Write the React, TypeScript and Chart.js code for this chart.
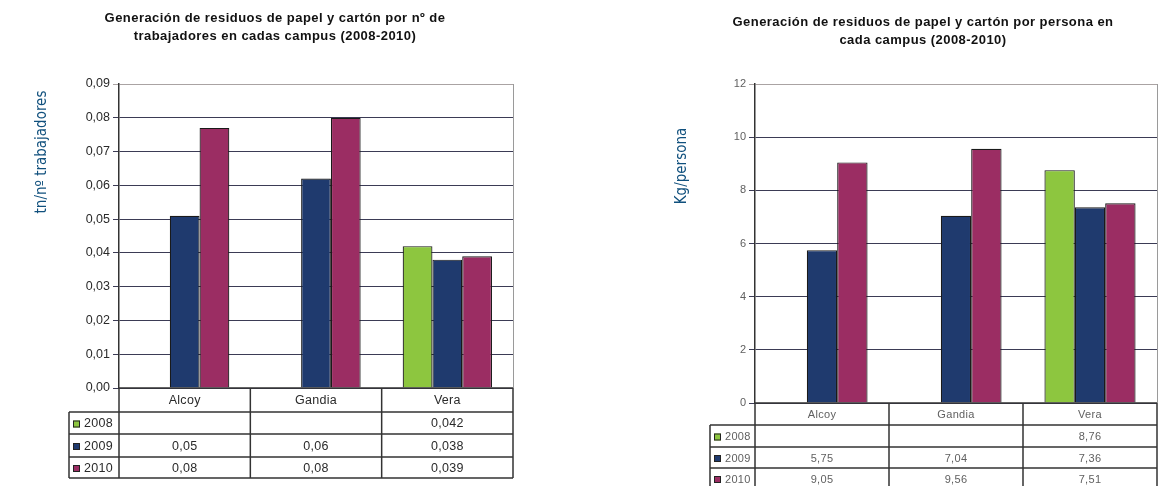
import React, { useEffect, useRef } from "react";
import { Chart, registerables } from "chart.js";

Chart.register(...registerables);

// Campuses and years
const campuses = ["Alcoy", "Gandia", "Vera"];
const years = ["2008", "2009", "2010"];
const yearColors = ["#8dc63f", "#1f3a6e", "#9b2d63"];

// Paper and cardboard waste per worker (tn / nº trabajadores)
const perWorker2008 = [null, null, 0.042];
const perWorker2009 = [0.051, 0.062, 0.038];
const perWorker2010 = [0.077, 0.080, 0.039];
const perWorkerDecimals = [2, 2, 3];

// Paper and cardboard waste per person (kg / persona)
const perPerson2008 = [null, null, 8.76];
const perPerson2009 = [5.75, 7.04, 7.36];
const perPerson2010 = [9.05, 9.56, 7.51];
const perPersonDecimals = [2, 2, 2];

const leftTitle = [
  "Generación de residuos de papel y cartón por nº de",
  "trabajadores en cadas campus (2008-2010)",
];
const rightTitle = [
  "Generación de residuos de papel y cartón por persona en",
  "cada campus (2008-2010)",
];

type PanelCfg = {
  series: (number | null)[][];
  decimals: number[];
  yMax: number;
  yStep: number;
  tickFormat: (v: number) => string;
  title: string[];
  titleX: number;
  titleYs: number[];
  yTitle: string;
  yTitleX: number;
  yTitleY: number;
  padding: { left: number; right: number; top: number; bottom: number };
  yWidth: number;
  rowHeights: number[];
  legendWidth: number;
  textColor: string;
  tickFont: number;
  tableFont: number;
  tableSpacing: string;
};

const fmt = (v: number, d: number) => v.toFixed(d).replace(".", ",");
const FONT = '"Liberation Sans", Arial, sans-serif';

function tablePlugin(cfg: PanelCfg) {
  return {
    id: "panelExtras",
    beforeDatasetsDraw(chart: any) {
      const { ctx, chartArea } = chart;
      ctx.save();
      ctx.strokeStyle = "#9a9a9a";
      ctx.lineWidth = 1;
      ctx.beginPath();
      ctx.moveTo(chartArea.right + 0.5, chartArea.top);
      ctx.lineTo(chartArea.right + 0.5, chartArea.bottom);
      ctx.stroke();
      ctx.restore();
    },
    afterDraw(chart: any) {
      const { ctx, chartArea } = chart;
      const xs = chart.scales.x;
      const left = chartArea.left;
      const right = chartArea.right;
      const colW = (right - left) / campuses.length;
      const legendLeft = left - cfg.legendWidth;
      const rows: number[] = [chartArea.bottom];
      cfg.rowHeights.forEach((h, i) => rows.push(rows[i] + h));
      const bottom = rows[rows.length - 1];

      ctx.save();
      // table grid
      ctx.strokeStyle = "#333";
      ctx.lineWidth = 1.5;
      ctx.beginPath();
      ctx.moveTo(left, rows[0]);
      ctx.lineTo(right, rows[0]);
      for (let i = 1; i < rows.length; i++) {
        ctx.moveTo(legendLeft, rows[i]);
        ctx.lineTo(right, rows[i]);
      }
      ctx.moveTo(legendLeft, rows[1]);
      ctx.lineTo(legendLeft, bottom);
      for (let c = 0; c <= campuses.length; c++) {
        const x = left + c * colW;
        ctx.moveTo(x, rows[0]);
        ctx.lineTo(x, bottom);
      }
      ctx.stroke();

      // header: campus names
      ctx.fillStyle = cfg.textColor;
      ctx.font = `${cfg.tableFont}px ${FONT}`;
      (ctx as any).letterSpacing = cfg.tableSpacing;
      ctx.textAlign = "center";
      ctx.textBaseline = "middle";
      campuses.forEach((name, c) => {
        const cx = xs.getPixelForValue(c);
        ctx.fillText(name, cx, (rows[0] + rows[1]) / 2 + 1);
      });

      // rows: legend key + values
      years.forEach((yr, r) => {
        const cy = (rows[r + 1] + rows[r + 2]) / 2 + 1;
        const sw = 7;
        const sx = legendLeft + 4;
        ctx.fillStyle = yearColors[r];
        ctx.fillRect(sx, cy - sw / 2, sw, sw);
        ctx.strokeStyle = "#222";
        ctx.lineWidth = 1;
        ctx.strokeRect(sx + 0.5, cy - sw / 2 + 0.5, sw - 1, sw - 1);
        ctx.fillStyle = cfg.textColor;
        ctx.textAlign = "left";
        ctx.fillText(yr, sx + sw + 4, cy);
        ctx.textAlign = "center";
        cfg.series[r].forEach((v, c) => {
          if (v === null) return;
          ctx.fillText(fmt(v, cfg.decimals[c]), xs.getPixelForValue(c), cy);
        });
      });

      // chart title
      ctx.fillStyle = "#111";
      ctx.font = `bold 13px ${FONT}`;
      (ctx as any).letterSpacing = "0.45px";
      ctx.textAlign = "center";
      cfg.title.forEach((line, i) => ctx.fillText(line, cfg.titleX, cfg.titleYs[i]));

      // vertical axis title
      (ctx as any).letterSpacing = "0px";
      ctx.translate(cfg.yTitleX, cfg.yTitleY);
      ctx.rotate(-Math.PI / 2);
      ctx.fillStyle = "#10507d";
      ctx.font = '15px "Liberation Sans Narrow", "DejaVu Sans Condensed", sans-serif';
      ctx.fillText(cfg.yTitle, 0, 0);
      ctx.restore();
    },
  };
}

function Panel({ cfg, left, width }: { cfg: PanelCfg; left: number; width: number }) {
  const ref = useRef<HTMLCanvasElement>(null);
  useEffect(() => {
    if (!ref.current) return;
    const chart = new Chart(ref.current, {
      type: "bar",
      data: {
        labels: campuses,
        datasets: years.map((yr, i) => ({
          label: yr,
          data: cfg.series[i],
          backgroundColor: yearColors[i],
          borderColor: "#1a1a1a",
          borderWidth: 1.2,
          categoryPercentage: 0.68,
          barPercentage: 1,
        })),
      },
      options: {
        responsive: false,
        animation: false,
        layout: { padding: cfg.padding },
        plugins: {
          legend: { display: false },
          title: { display: false },
          tooltip: { enabled: false },
        },
        scales: {
          x: { display: false },
          y: {
            min: 0,
            max: cfg.yMax,
            afterFit: (s: any) => {
              s.width = cfg.yWidth;
            },
            ticks: {
              stepSize: cfg.yStep,
              padding: 3,
              color: cfg.textColor,
              font: { family: FONT, size: cfg.tickFont },
              callback: (v: any) => cfg.tickFormat(Number(v)),
            },
            grid: {
              color: (c: any) =>
                c.tick && Math.abs(c.tick.value - cfg.yMax) < 1e-9 ? "#aaa3a3" : "#3b3b55",
              tickLength: 6,
            },
            border: { display: true, color: "#333", width: 1.5 },
          },
        },
      },
      plugins: [tablePlugin(cfg)],
    });
    return () => chart.destroy();
  }, [cfg]);
  return (
    <canvas
      ref={ref}
      width={width}
      height={486}
      style={{ position: "absolute", left, top: 0, width, height: 486 }}
    />
  );
}

const leftCfg: PanelCfg = {
  series: [perWorker2008, perWorker2009, perWorker2010],
  decimals: perWorkerDecimals,
  yMax: 0.09,
  yStep: 0.01,
  tickFormat: (v) => v.toFixed(2).replace(".", ","),
  title: leftTitle,
  titleX: 275,
  titleYs: [18, 36],
  yTitle: "tn/nº trabajadores",
  yTitleX: 42,
  yTitleY: 152,
  padding: { left: 69, right: 67, top: 84, bottom: 98 },
  yWidth: 50,
  rowHeights: [24, 22, 23, 21],
  legendWidth: 50,
  textColor: "#2a2a2a",
  tickFont: 12.5,
  tableFont: 12.5,
  tableSpacing: "0.3px",
};

const rightCfg: PanelCfg = {
  series: [perPerson2008, perPerson2009, perPerson2010],
  decimals: perPersonDecimals,
  yMax: 12,
  yStep: 2,
  tickFormat: (v) => String(Math.round(v)),
  title: rightTitle,
  titleX: 343,
  titleYs: [22, 40],
  yTitle: "Kg/persona",
  yTitleX: 102,
  yTitleY: 166,
  padding: { left: 145, right: 14, top: 84, bottom: 83 },
  yWidth: 30,
  rowHeights: [22, 22, 21, 21],
  legendWidth: 45,
  textColor: "#606060",
  tickFont: 11,
  tableFont: 11,
  tableSpacing: "0.3px",
};

export default function App() {
  return (
    <div
      style={{
        position: "fixed",
        left: 0,
        top: 0,
        width: 1171,
        height: 486,
        background: "#fff",
        overflow: "hidden",
      }}
    >
      <Panel cfg={leftCfg} left={0} width={580} />
      <Panel cfg={rightCfg} left={580} width={591} />
    </div>
  );
}
